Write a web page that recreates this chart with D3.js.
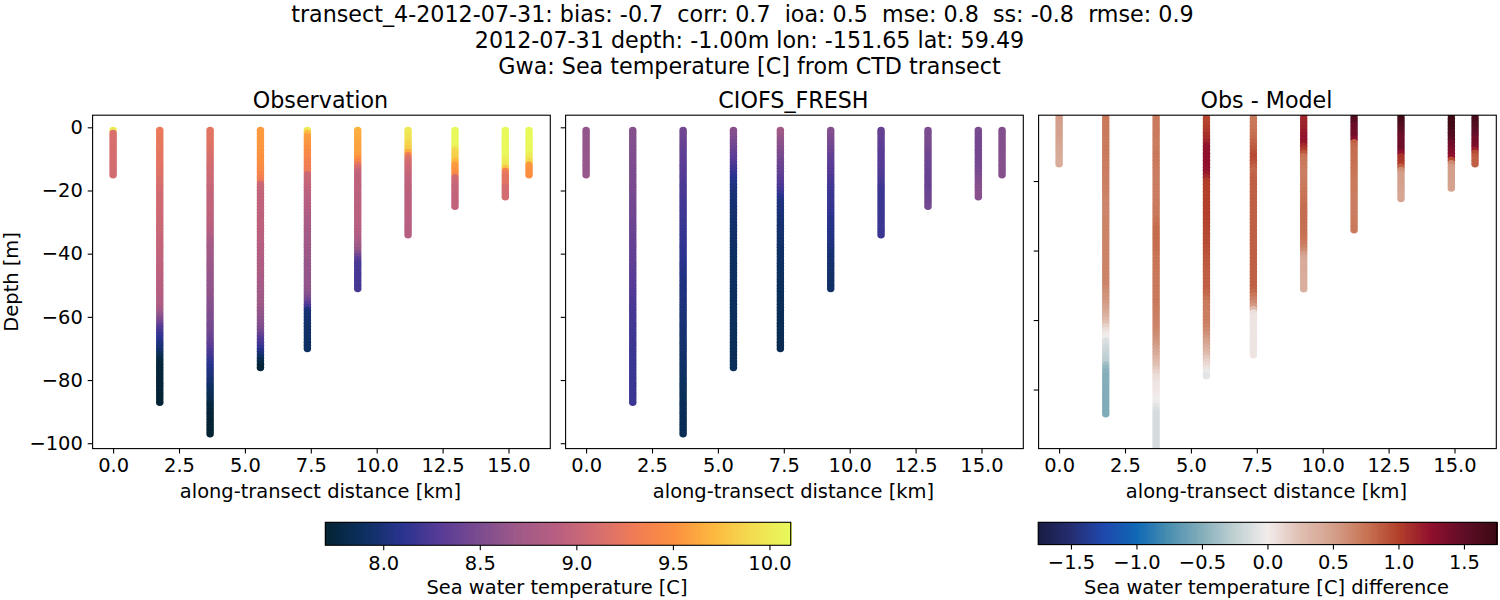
<!DOCTYPE html>
<html>
<head>
<meta charset="utf-8">
<script src="https://cdn.jsdelivr.net/npm/d3@7"></script>
<style>
  html, body { margin: 0; padding: 0; background: #fff; }
  svg { display: block; }
  text { font-family: "DejaVu Sans", sans-serif; fill: #000; }
</style>
</head>
<body>
<svg id="chart" width="1500" height="600"></svg>
<script>
// along-transect position of each CTD cast, km
const castDistance = [0, 1.77, 3.68, 5.59, 7.37, 9.28, 11.19, 12.97, 14.88, 15.78]

const xTicks = [0, 2.5, 5, 7.5, 10, 12.5, 15]
const depthTicks = [0, -20, -40, -60, -80, -100]
const tempTicks = [8, 8.5, 9, 9.5, 10]
const diffTicks = [-1.5, -1, -0.5, 0, 0.5, 1, 1.5]

const suptitle = [
  'transect_4-2012-07-31: bias: -0.7  corr: 0.7  ioa: 0.5  mse: 0.8  ss: -0.8  rmse: 0.9  ',
  '2012-07-31 depth: -1.00m lon: -151.65 lat: 59.49',
  'Gwa: Sea temperature [C] from CTD transect'
]

// one value per metre, starting at 1 m depth
const obsTemp = [
  [10.0,9.14,9.14,9.13,9.13,9.12,9.12,9.12,9.11,9.11,
   9.11,9.1,9.1,9.1,9.09],
  [9.27,9.27,9.26,9.26,9.25,9.25,9.24,9.23,9.23,9.22,
   9.21,9.2,9.19,9.18,9.17,9.16,9.15,9.13,9.12,9.1,
   9.09,9.08,9.08,9.07,9.07,9.06,9.06,9.05,9.05,9.04,
   9.04,9.03,9.03,9.02,9.01,9,8.99,8.99,8.98,8.98,
   8.97,8.96,8.96,8.95,8.95,8.94,8.93,8.92,8.92,8.91,
   8.9,8.89,8.88,8.86,8.85,8.82,8.79,8.74,8.68,8.6,
   8.52,8.44,8.32,8.25,8.2,8.15,8.1,8.06,8.02,7.98,
   7.94,7.88,7.82,7.77,7.74,7.73,7.73,7.72,7.72,7.72,
   7.72,7.72,7.72,7.72,7.71,7.71,7.71],
  [9.22,9.21,9.2,9.2,9.19,9.18,9.17,9.15,9.14,9.12,
   9.11,9.1,9.08,9.07,9.06,9.05,9.04,9.03,9.01,9,
   8.99,8.98,8.98,8.97,8.97,8.96,8.96,8.95,8.95,8.94,
   8.93,8.91,8.89,8.86,8.82,8.79,8.76,8.74,8.73,8.72,
   8.71,8.7,8.69,8.68,8.67,8.66,8.65,8.65,8.64,8.64,
   8.63,8.62,8.61,8.59,8.58,8.56,8.55,8.54,8.52,8.51,
   8.5,8.48,8.47,8.45,8.43,8.41,8.38,8.35,8.32,8.28,
   8.24,8.22,8.18,8.15,8.12,8.08,8.05,8.03,8,7.98,
   7.96,7.93,7.9,7.87,7.85,7.82,7.79,7.76,7.74,7.73,
   7.72,7.72,7.71,7.71,7.71,7.7,7.7],
  [9.56,9.56,9.56,9.55,9.55,9.55,9.54,9.53,9.52,9.51,
   9.5,9.48,9.46,9.43,9.4,9.36,9.3,9.06,9.02,9,
   8.99,8.98,8.98,8.97,8.97,8.96,8.96,8.95,8.95,8.94,
   8.94,8.93,8.93,8.92,8.92,8.91,8.9,8.89,8.88,8.87,
   8.86,8.85,8.84,8.83,8.82,8.81,8.8,8.78,8.76,8.75,
   8.74,8.73,8.73,8.72,8.72,8.7,8.68,8.66,8.64,8.62,
   8.6,8.57,8.54,8.5,8.45,8.36,8.28,8.24,8.2,8.14,
   8.06,7.98,7.9,7.83,7.76,7.72],
  [10.0,9.72,9.58,9.56,9.54,9.52,9.49,9.46,9.43,9.4,
   9.37,9.35,9.32,9.29,9.05,9.03,9.01,8.99,8.97,8.95,
   8.93,8.92,8.9,8.89,8.88,8.86,8.84,8.82,8.8,8.78,
   8.77,8.76,8.75,8.74,8.73,8.72,8.71,8.7,8.69,8.68,
   8.68,8.67,8.66,8.65,8.65,8.64,8.64,8.63,8.63,8.62,
   8.62,8.6,8.56,8.5,8.42,8.3,8.2,8.02,7.97,7.96,
   7.95,7.95,7.94,7.94,7.93,7.93,7.92,7.92,7.91,7.91],
  [9.68,9.66,9.65,9.63,9.62,9.6,9.6,9.59,9.57,9.5,
   9.4,9.22,9.1,9,8.96,8.95,8.95,8.94,8.94,8.94,
   8.93,8.93,8.93,8.93,8.92,8.92,8.92,8.92,8.91,8.91,
   8.9,8.89,8.88,8.86,8.84,8.78,8.74,8.7,8.64,8.55,
   8.42,8.3,8.24,8.23,8.23,8.22,8.22,8.22,8.21,8.21,8.21],
  [10,9.98,9.96,9.94,9.88,9.85,9.82,9.65,9.3,9.15,
   9.1,9.08,9.05,9.03,9,8.98,8.96,8.95,8.94,8.93,
   8.93,8.93,8.92,8.92,8.92,8.92,8.91,8.91,8.91,8.91,
   8.9,8.9,8.9,8.9],
  [10.11,10.11,10.11,10.1,10.1,10.08,9.95,9.87,9.85,9.82,
   9.7,9.58,9.55,9.52,9.45,9.1,9.05,9.02,9,8.99,
   8.98,8.98,8.97,8.97,8.97],
  [10.11,10.11,10.11,10.11,10.1,10.1,10.1,10.1,10.09,10.04,
   10.01,9.98,9.8,9.35,9.24,9.22,9.2,9.2,9.12,9.1,
   9.1,9.09],
  [10.11,10.11,10.11,10.11,10.1,10.1,10.1,10.08,10.02,9.98,
   9.88,9.55,9.52,9.5,9.5]
]

const modelTemp = [
  [8.63,8.63,8.63,8.64,8.64,8.64,8.64,8.65,8.65,8.65,
   8.65,8.66,8.66,8.66,8.66],
  [8.56,8.56,8.55,8.55,8.54,8.54,8.53,8.53,8.52,8.52,
   8.52,8.52,8.51,8.51,8.5,8.5,8.5,8.49,8.49,8.49,
   8.48,8.47,8.46,8.45,8.45,8.44,8.44,8.43,8.43,8.42,
   8.41,8.4,8.4,8.39,8.38,8.38,8.37,8.37,8.36,8.36,
   8.35,8.34,8.34,8.33,8.32,8.31,8.3,8.3,8.29,8.29,
   8.28,8.27,8.26,8.26,8.25,8.24,8.24,8.23,8.22,8.22,
   8.21,8.21,8.2,8.2,8.19,8.19,8.19,8.18,8.18,8.18,
   8.17,8.17,8.17,8.17,8.17,8.17,8.17,8.17,8.17,8.17,
   8.17,8.17,8.17,8.17,8.17,8.17,8.17],
  [8.44,8.43,8.42,8.4,8.39,8.38,8.36,8.35,8.34,8.33,
   8.32,8.31,8.3,8.29,8.28,8.27,8.26,8.25,8.25,8.24,
   8.23,8.22,8.21,8.2,8.2,8.19,8.19,8.18,8.18,8.17,
   8.17,8.16,8.15,8.15,8.14,8.14,8.13,8.13,8.12,8.12,
   8.11,8.1,8.09,8.08,8.07,8.06,8.05,8.04,8.04,8.03,
   8.03,8.03,8.03,8.03,8.02,8.02,8.01,8.01,8,8,
   7.99,7.99,7.98,7.98,7.97,7.97,7.96,7.96,7.95,7.95,
   7.95,7.94,7.94,7.93,7.93,7.92,7.92,7.91,7.91,7.9,
   7.9,7.9,7.89,7.89,7.88,7.88,7.88,7.87,7.87,7.87,
   7.86,7.86,7.86,7.85,7.85,7.85,7.85],
  [8.57,8.55,8.53,8.5,8.47,8.44,8.41,8.37,8.34,8.31,
   8.28,8.24,8.2,8.17,8.14,8.1,8.07,8.05,8.03,8.01,
   8,7.99,7.98,7.98,7.97,7.97,7.96,7.96,7.95,7.95,
   7.95,7.94,7.94,7.93,7.93,7.93,7.92,7.92,7.92,7.92,
   7.91,7.91,7.91,7.91,7.9,7.9,7.9,7.9,7.9,7.9,
   7.9,7.89,7.89,7.89,7.89,7.89,7.89,7.89,7.89,7.89,
   7.89,7.89,7.88,7.88,7.88,7.88,7.88,7.88,7.88,7.88,
   7.87,7.87,7.87,7.87,7.87,7.87],
  [8.72,8.7,8.67,8.64,8.61,8.58,8.55,8.52,8.49,8.46,
   8.43,8.41,8.39,8.37,8.35,8.32,8.29,8.26,8.23,8.2,
   8.15,8.1,8.06,8.03,8.02,8.01,8,7.99,7.98,7.98,
   7.97,7.96,7.96,7.95,7.95,7.94,7.94,7.93,7.93,7.92,
   7.92,7.92,7.91,7.91,7.9,7.9,7.9,7.89,7.89,7.89,
   7.88,7.88,7.88,7.88,7.87,7.87,7.87,7.87,7.86,7.86,
   7.86,7.86,7.85,7.85,7.85,7.84,7.84,7.84,7.83,7.83],
  [8.55,8.54,8.52,8.5,8.47,8.45,8.42,8.4,8.37,8.35,
   8.33,8.31,8.3,8.28,8.27,8.25,8.24,8.22,8.2,8.19,
   8.18,8.17,8.17,8.16,8.15,8.14,8.13,8.11,8.09,8.08,
   8.07,8.07,8.06,8.06,8.05,8.04,8.03,8.02,8,7.98,
   7.97,7.97,7.96,7.96,7.95,7.95,7.94,7.94,7.93,7.93,7.92],
  [8.38,8.37,8.36,8.35,8.33,8.32,8.31,8.3,8.3,8.29,
   8.29,8.28,8.28,8.27,8.26,8.25,8.23,8.21,8.19,8.17,
   8.17,8.17,8.17,8.17,8.17,8.17,8.17,8.17,8.17,8.17,
   8.17,8.17,8.17,8.17],
  [8.5,8.5,8.5,8.5,8.49,8.48,8.46,8.44,8.43,8.42,
   8.41,8.4,8.4,8.39,8.39,8.38,8.38,8.38,8.38,8.38,
   8.4,8.41,8.42,8.44,8.46],
  [8.5,8.48,8.46,8.45,8.45,8.45,8.45,8.45,8.45,8.45,
   8.46,8.46,8.47,8.48,8.49,8.51,8.53,8.55,8.56,8.57,
   8.57,8.57],
  [8.55,8.55,8.55,8.55,8.55,8.55,8.55,8.55,8.55,8.55,
   8.55,8.56,8.56,8.56,8.56]
]

const diffTemp = [
  [.54,.52,.51,.5,.49,.49,.48,.47,.46,.45,
   .44,.43,.42,.41,.41],
  [.74,.74,.73,.73,.72,.72,.72,.71,.71,.71,
   .72,.72,.71,.71,.7,.7,.7,.7,.69,.69,
   .69,.68,.68,.67,.66,.65,.65,.65,.65,.65,
   .66,.66,.66,.66,.66,.66,.66,.66,.66,.66,
   .66,.66,.66,.66,.66,.66,.66,.66,.66,.66,
   .62,.6,.58,.56,.54,.5,.46,.42,.36,.3,
   .24,.15,.08,.02,0,-.1,-.13,-.17,-.2,-.22,
   -.25,-.27,-.38,-.44,-.48,-.5,-.5,-.5,-.5,-.51,
   -.51,-.51,-.51,-.52,-.52,-.52,-.52],
  [.72,.72,.72,.72,.72,.71,.71,.71,.7,.7,
   .7,.72,.72,.72,.71,.71,.7,.7,.7,.7,
   .7,.7,.7,.7,.7,.71,.71,.72,.72,.72,
   .74,.76,.78,.79,.79,.79,.79,.78,.78,.77,
   .76,.75,.75,.74,.74,.73,.73,.72,.72,.72,
   .72,.72,.72,.72,.72,.71,.7,.7,.69,.68,
   .67,.66,.64,.62,.6,.57,.54,.5,.46,.42,
   .36,.3,.25,.2,.15,.1,.08,.05,.04,.03,
   .02,.01,0,-.03,-.07,-.12,-.14,-.15,-.15,-.15,
   -.15,-.15,-.15,-.15,-.15,-.15,-.15],
  [.95,.97,.98,1,1.02,1.05,1.08,1.1,1.15,1.22,
   1.23,1.24,1.25,1.25,1.25,1.24,1.23,1.2,1.12,1.03,
   1.01,1,1,1,1,1,1,1,1,1,
   .99,.98,.98,.97,.96,.95,.95,.94,.93,.92,
   .91,.9,.89,.88,.87,.86,.85,.85,.85,.85,
   .84,.82,.8,.76,.72,.71,.71,.7,.7,.7,
   .68,.66,.63,.59,.55,.5,.46,.4,.34,.28,
   .2,.15,.1,.05,-.03,-.07],
  [.72,.72,.72,.73,.74,.76,.78,.8,.82,.85,
   .88,.92,.95,.93,.9,.85,.8,.82,.84,.85,
   .85,.85,.85,.85,.85,.85,.85,.85,.85,.85,
   .85,.85,.85,.85,.85,.85,.85,.85,.85,.85,
   .85,.85,.85,.85,.85,.85,.85,.85,.85,.85,
   .84,.8,.74,.68,.62,.55,.3,.08,.05,.04,
   .04,.04,.04,.04,.04,.04,.04,.04,.04,.04],
  [1.12,1.13,1.14,1.15,1.16,1.2,1.21,1.22,1.22,1.12,
   1.02,.9,.75,.73,.72,.71,.7,.7,.7,.7,
   .72,.73,.74,.75,.76,.76,.77,.78,.78,.78,
   .78,.78,.78,.77,.77,.76,.75,.72,.68,.62,
   .52,.45,.42,.42,.41,.41,.4,.4,.39,.38,.38],
  [1.6,1.58,1.55,1.45,1.43,1.42,1.4,1.3,.85,.8,
   .78,.78,.78,.77,.77,.76,.75,.74,.73,.72,
   .71,.71,.71,.7,.7,.7,.7,.7,.7,.7,
   .71,.71,.72,.72],
  [1.72,1.7,1.68,1.58,1.55,1.5,1.44,1.43,1.42,1.42,
   1.4,1.25,1.08,1.05,1.03,.85,.6,.52,.5,.5,
   .49,.48,.47,.46,.45],
  [1.72,1.72,1.7,1.7,1.68,1.62,1.6,1.55,1.42,1.4,
   1.35,1.3,1.25,.95,.62,.52,.5,.5,.5,.5,
   .49,.48],
  [1.68,1.66,1.65,1.6,1.55,1.52,1.45,1.4,1.38,1.36,
   1.2,.95,.87,.85,.84]
]

const thermalStops = ['#042333', '#0c3060', '#2a3390', '#5a3c96', '#7c4c8f', '#a05a88', '#b85f80',
                      '#d46d70', '#f07c55', '#fb9040', '#fdb83f', '#f3dc50', '#e8fa5b']
const balanceStops = ['#181c43', '#252d70', '#1f48ae', '#0f68b5', '#4a8fb0', '#85aebb', '#c0d0d3', '#f1ecec',
                      '#e0bfb2', '#d4a08c', '#c87455', '#b2402a', '#8f0f2d', '#5f0e27', '#3c0912']

const axesLeft = [92.6, 565.6, 1038.6]
const axesWidth = 457.7
const axesTop = 115.2
const axesBottom = 448.6
const markerRadius = 3.75

const labelSize = '19.44px'
const titleSize = '22.22px'

function stopScale(stops, lo, hi) {
  return d3.scaleLinear()
    .domain(stops.map((c, i) => lo + (hi - lo) * i / (stops.length - 1)))
    .range(stops)
    .interpolate(d3.interpolateRgb)
    .clamp(true)
}

const tempColor = stopScale(thermalStops, 7.7, 10.11)
const diffColor = stopScale(balanceStops, -1.75, 1.75)

const svg = d3.select('#chart')

svg.selectAll('.suptitle')
  .data(suptitle)
  .enter().append('text')
    .attr('class', 'suptitle')
    .attr('x', 749.5)
    .attr('y', (d, i) => 22 + i * 26)
    .attr('text-anchor', 'middle')
    .style('font-size', titleSize)
    .style('white-space', 'pre')
    .text(d => d)

function drawPanel(idx, title, casts, color, depthDomain, showDepth) {
  const left = axesLeft[idx]

  const x = d3.scaleLinear()
    .domain([-0.778, 16.586])
    .range([left, left + axesWidth])

  const y = d3.scaleLinear()
    .domain(depthDomain)
    .range([axesTop, axesBottom])

  const g = svg.append('g').attr('class', 'panel')

  const clipId = 'clip' + idx
  g.append('clipPath').attr('id', clipId)
    .append('rect')
      .attr('x', left)
      .attr('y', axesTop)
      .attr('width', axesWidth)
      .attr('height', axesBottom - axesTop)

  // deeper samples sit on top of shallower ones
  const points = []
  casts.forEach((vals, c) => vals.forEach((v, k) => points.push({ cast: c, depth: -(k + 1), value: v })))

  g.append('g')
    .attr('clip-path', 'url(#' + clipId + ')')
    .selectAll('circle')
    .data(points)
    .enter().append('circle')
      .attr('cx', d => x(castDistance[d.cast]))
      .attr('cy', d => y(d.depth))
      .attr('r', markerRadius)
      .attr('fill', d => color(d.value))

  const xAxis = d3.axisBottom(x)
    .tickValues(xTicks)
    .tickFormat(d3.format('.1f'))
    .tickSizeOuter(0)
    .tickSize(4.9)
    .tickPadding(4.9)

  const gx = g.append('g')
    .attr('transform', 'translate(0,' + axesBottom + ')')
    .call(xAxis)
  gx.select('.domain').remove()

  const visibleDepth = depthTicks.filter(t => t <= depthDomain[0] && t >= depthDomain[1])
  const yAxis = d3.axisLeft(y)
    .tickValues(visibleDepth)
    .tickFormat(showDepth ? d3.format('d') : '')
    .tickSizeOuter(0)
    .tickSize(4.9)
    .tickPadding(4.9)

  const gy = g.append('g')
    .attr('transform', 'translate(' + left + ',0)')
    .call(yAxis)
  gy.select('.domain').remove()

  g.selectAll('.tick line').attr('stroke', '#000').attr('stroke-width', 1.1)
  g.selectAll('.tick text').style('font-size', labelSize).style('font-family', '"DejaVu Sans", sans-serif').attr('fill', '#000')

  g.append('rect')
    .attr('x', left)
    .attr('y', axesTop)
    .attr('width', axesWidth)
    .attr('height', axesBottom - axesTop)
    .attr('fill', 'none')
    .attr('stroke', '#000')
    .attr('stroke-width', 1.1)

  g.append('text')
    .attr('x', left + axesWidth / 2 - 1)
    .attr('y', 108)
    .attr('text-anchor', 'middle')
    .style('font-size', titleSize)
    .text(title)

  g.append('text')
    .attr('x', left + axesWidth / 2 - 1)
    .attr('y', 498)
    .attr('text-anchor', 'middle')
    .style('font-size', labelSize)
    .text('along-transect distance [km]')

  if (showDepth) {
    g.append('text')
      .attr('transform', 'translate(18,' + (axesTop + axesBottom) / 2 + ') rotate(-90)')
      .attr('text-anchor', 'middle')
      .style('font-size', labelSize)
      .text('Depth [m]')
  }
}

function drawColorbar(left, right, top, bottom, domain, color, ticks, label, fmt) {
  const x = d3.scaleLinear().domain(domain).range([left, right])
  const g = svg.append('g').attr('class', 'colorbar')
  const levels = d3.range(256)
  const level = d3.scaleLinear().domain([0, 256]).range(domain)

  g.selectAll('rect.level')
    .data(levels)
    .enter().append('rect')
      .attr('class', 'level')
      .attr('x', d => x(level(d)))
      .attr('y', top)
      .attr('width', d => x(level(d + 1)) - x(level(d)) + 1)
      .attr('height', bottom - top)
      .attr('shape-rendering', 'crispEdges')
      .attr('fill', d => color(level(d + 0.5)))

  const axis = d3.axisBottom(x)
    .tickValues(ticks)
    .tickFormat(fmt)
    .tickSizeOuter(0)
    .tickSize(4.9)
    .tickPadding(5.9)

  const gx = g.append('g')
    .attr('transform', 'translate(0,' + bottom + ')')
    .call(axis)
  gx.select('.domain').remove()
  gx.selectAll('.tick line').attr('stroke', '#000').attr('stroke-width', 1.1)
  gx.selectAll('.tick text').style('font-size', labelSize).style('font-family', '"DejaVu Sans", sans-serif').attr('fill', '#000')

  g.append('rect')
    .attr('x', left)
    .attr('y', top)
    .attr('width', right - left)
    .attr('height', bottom - top)
    .attr('fill', 'none')
    .attr('stroke', '#000')
    .attr('stroke-width', 1.1)

  g.append('text')
    .attr('x', (left + right) / 2 - 1)
    .attr('y', 594)
    .attr('text-anchor', 'middle')
    .style('font-size', labelSize)
    .text(label)
}

drawPanel(0, 'Observation', obsTemp, tempColor, [3.83, -101.7], true)
drawPanel(1, 'CIOFS_FRESH', modelTemp, tempColor, [3.83, -101.7], false)
drawPanel(2, 'Obs - Model', diffTemp, diffColor, [-1.05, -97], false)

drawColorbar(325.3, 790.7, 522.3, 545.3, [7.7, 10.11], tempColor, tempTicks,
  'Sea water temperature [C]', d3.format('.1f'))
drawColorbar(1038.2, 1496.7, 522.3, 544.6, [-1.75, 1.75], diffColor, diffTicks,
  'Sea water temperature [C] difference', d3.format('.1f'))
</script>
</body>
</html>
